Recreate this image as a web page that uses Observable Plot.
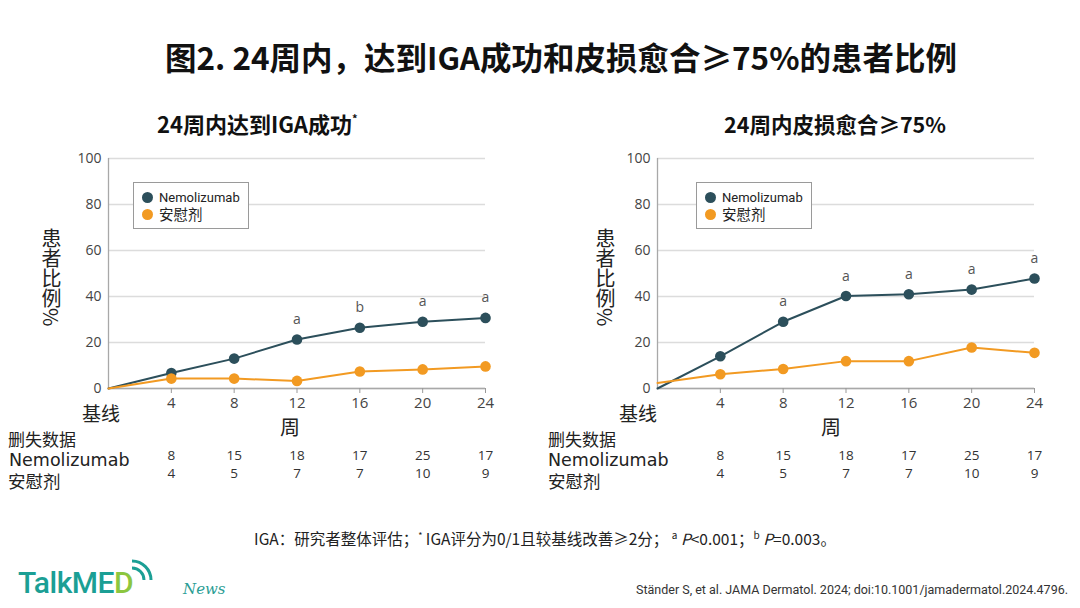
<!DOCTYPE html>
<html>
<head>
<meta charset="utf-8">
<script src="https://cdn.jsdelivr.net/npm/d3@7"></script>
<script src="https://cdn.jsdelivr.net/npm/@observablehq/plot@0.6"></script>
<style>
  html, body { margin: 0; padding: 0; background: #fff; }
  #page { position: relative; width: 1080px; height: 608px; overflow: hidden; background: #fff;
          font-family: "Noto Sans CJK SC", "Noto Sans", sans-serif; color: #222; }
  .abs { position: absolute; white-space: nowrap; line-height: 1; }
  .chart { position: absolute; top: 0; }
  .ylab { position: absolute; writing-mode: vertical-rl; font-size: 20px; line-height: 1; color: #222; }
  .legend { position: absolute; border: 1.5px solid #9a9a9a; background: #fff; box-sizing: border-box; }
  .legend .row { position: absolute; left: 8px; display: flex; align-items: center; line-height: 1; }
  .legend .dot { width: 11px; height: 11px; border-radius: 50%; margin-right: 6px; }
</style>
</head>
<body>
<div id="page">
  <div class="abs" id="title" style="left:0; width:1122px; text-align:center; top:41px; font-size:31.5px; font-weight:700; color:#111;">图2. 24周内，达到IGA成功和皮损愈合≥75%的患者比例</div>
  <div class="abs" style="left:157px; top:112px; font-size:22px; font-weight:700; color:#111;">24周内达到IGA成功<sup style="font-size:11px; position:relative; top:-2px;">*</sup></div>
  <div class="abs" style="left:0; width:1670px; text-align:center; top:113px; font-size:21.5px; font-weight:700; color:#111;">24周内皮损愈合≥75%</div>

  <div class="chart" id="c1" style="left:0;"></div>
  <div class="chart" id="c2" style="left:540px;"></div>

  <!-- left chart labels -->
  <div class="ylab" style="left:41px; top:228px;">患者比例%</div>
  <div class="abs" style="left:82px; top:403px; font-size:19px;">基线</div>
  <div class="abs" style="left:280px; top:417px; font-size:20px;">周</div>
  <div class="abs" style="left:8px; top:430px; font-size:17px;">删失数据</div>
  <div class="abs" style="left:9px; top:452px; font-size:17.5px; font-family:'DejaVu Sans',sans-serif;">Nemolizumab</div>
  <div class="abs" style="left:8px; top:472px; font-size:17.5px;">安慰剂</div>

  <!-- right chart labels -->
  <div class="ylab" style="left:595px; top:228px;">患者比例%</div>
  <div class="abs" style="left:619px; top:403px; font-size:19px;">基线</div>
  <div class="abs" style="left:821px; top:417px; font-size:20px;">周</div>
  <div class="abs" style="left:548px; top:430px; font-size:17px;">删失数据</div>
  <div class="abs" style="left:548px; top:452px; font-size:17.5px; font-family:'DejaVu Sans',sans-serif;">Nemolizumab</div>
  <div class="abs" style="left:548px; top:472px; font-size:17.5px;">安慰剂</div>

  <div id="legends"></div>

  <div class="abs" style="left:0; width:1090px; text-align:center; top:530px; font-size:15.5px; color:#222;">IGA：研究者整体评估；<sup style="font-size:9px;">*</sup> IGA评分为0/1且较基线改善≥2分； <sup style="font-size:10px;">a</sup> <i>P</i>&lt;0.001；<sup style="font-size:10px;">b</sup> <i>P</i>=0.003。</div>
  <div class="abs" style="right:12px; top:584px; font-size:12.5px; color:#333; font-family:Roboto, sans-serif;">Ständer S, et al. JAMA Dermatol. 2024; doi:10.1001/jamadermatol.2024.4796.</div>

  <!-- logo -->
  <div class="abs" style="left:18px; top:568px; font-size:30px; font-weight:500; font-family:Roboto, sans-serif; letter-spacing:-0.5px;"><span style="color:#1b9f95;">TalkME</span><span style="color:#8cc63f;">D</span></div>
  <svg class="abs" style="left:128px; top:558px;" width="34" height="30">
    <path d="M4 10 A12 12 0 0 1 16 22" fill="none" stroke="#1b9f95" stroke-width="3"/>
    <path d="M4 3 A19 19 0 0 1 23 22" fill="none" stroke="#1b9f95" stroke-width="3"/>
  </svg>
  <div class="abs" style="left:183px; top:582px; font-size:15px; font-style:italic; font-family:'DejaVu Serif', serif; color:#2a9d94;">News</div>
</div>

<script>
// ---------- data ----------
const weeks = [0, 4, 8, 12, 16, 20, 24];
const igaNemo = [0, 6.7, 13.0, 21.3, 26.4, 29.0, 30.7];
const igaPlacebo = [0, 4.3, 4.3, 3.3, 7.4, 8.3, 9.6];
const igaSig = [null, null, null, "a", "b", "a", "a"];
const easiNemo = [0, 14.0, 29.0, 40.2, 41.0, 43.0, 47.8];
const easiPlacebo = [2.4, 6.2, 8.5, 11.9, 11.9, 17.8, 15.5];
const easiSig = [null, null, "a", "a", "a", "a", "a"];
const censoredWeeks = [4, 8, 12, 16, 20, 24];
const censoredNemo = [8, 15, 18, 17, 25, 17];
const censoredPlacebo = [4, 5, 7, 7, 10, 9];
const xTicks = [4, 8, 12, 16, 20, 24];
const yTicks = [0, 20, 40, 60, 80, 100];
const seriesNames = ["Nemolizumab", "安慰剂"];
const colors = ["#2c4f5b", "#f29a22"];

function makeChart(nemo, placebo, sig, mLeft, mRight) {
  const rowsN = weeks.map((w, i) => ({week: w, value: nemo[i], sig: sig[i]}));
  const rowsP = weeks.map((w, i) => ({week: w, value: placebo[i]}));
  const cens = censoredWeeks.map((w, i) => ({week: w, n: censoredNemo[i], p: censoredPlacebo[i]}));
  return Plot.plot({
    width: 540, height: 500,
    marginLeft: mLeft, marginRight: mRight, marginTop: 158, marginBottom: 112,
    style: {fontFamily: "'Open Sans', sans-serif", background: "transparent"},
    x: {domain: [0, 24]},
    y: {domain: [0, 100]},
    marks: [
      Plot.gridY(yTicks, {stroke: "#dcdcdc", strokeOpacity: 1, strokeWidth: 1.3}),
      Plot.ruleX([0], {stroke: "#a8a8a8", strokeWidth: 1.3}),
      Plot.ruleY([0], {stroke: "#a8a8a8", strokeWidth: 1.5}),
      Plot.axisX({ticks: xTicks, tickSize: 5, tickPadding: 4, stroke: "#999", fill: "#444", fontSize: 15, label: null}),
      Plot.axisY({ticks: yTicks, tickSize: 0, tickPadding: 7, fill: "#444", fontSize: 14, label: null}),
      Plot.line(rowsN, {x: "week", y: "value", stroke: colors[0], strokeWidth: 2}),
      Plot.dot(rowsN.filter(d => d.week > 0), {x: "week", y: "value", r: 5.3, fill: colors[0]}),
      Plot.line(rowsP, {x: "week", y: "value", stroke: colors[1], strokeWidth: 2}),
      Plot.dot(rowsP.filter(d => d.week > 0), {x: "week", y: "value", r: 5.3, fill: colors[1]}),
      Plot.text(rowsN.filter(d => d.sig), {x: "week", y: "value", text: "sig", dy: -20, fontSize: 14, fill: "#555"}),
      Plot.text(cens, {x: "week", text: "n", frameAnchor: "bottom", dy: 71, fontSize: 13.5, fill: "#333"}),
      Plot.text(cens, {x: "week", text: "p", frameAnchor: "bottom", dy: 89, fontSize: 13.5, fill: "#333"})
    ]
  });
}

document.getElementById("c1").appendChild(makeChart(igaNemo, igaPlacebo, igaSig, 108, 55));
document.getElementById("c2").appendChild(makeChart(easiNemo, easiPlacebo, easiSig, 117, 46));

// legends
const legendHost = document.getElementById("legends");
[133, 696].forEach(left => {
  const box = document.createElement("div");
  box.className = "legend";
  Object.assign(box.style, {left: left + "px", top: "182px", width: "116px", height: "47px"});
  seriesNames.forEach((name, i) => {
    const row = document.createElement("div");
    row.className = "row";
    row.style.top = (i === 0 ? 8 : 24) + "px";
    const dot = document.createElement("div");
    dot.className = "dot";
    dot.style.background = colors[i];
    const txt = document.createElement("span");
    txt.textContent = name;
    txt.style.fontSize = i === 0 ? "13px" : "14.5px";
    txt.style.fontFamily = i === 0 ? "Roboto, sans-serif" : "'Noto Sans CJK SC', sans-serif";
    txt.style.color = "#222";
    row.appendChild(dot);
    row.appendChild(txt);
    box.appendChild(row);
  });
  legendHost.appendChild(box);
});
</script>
</body>
</html>
